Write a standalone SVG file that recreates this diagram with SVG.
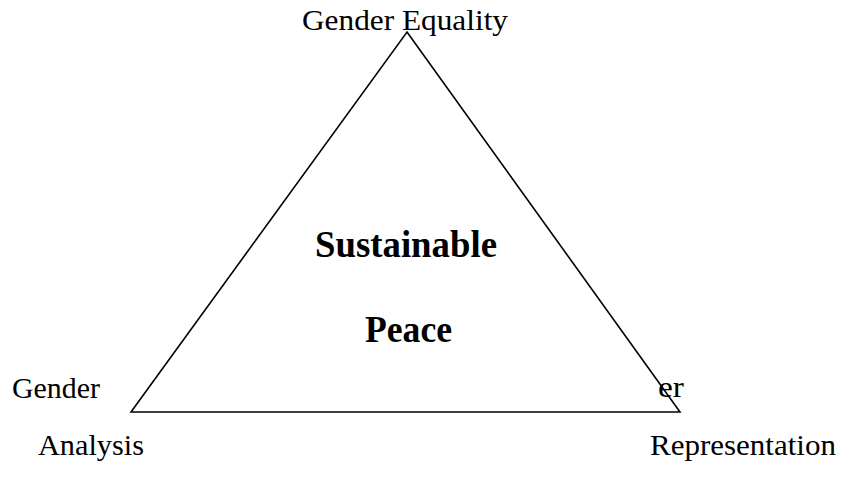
<svg xmlns="http://www.w3.org/2000/svg" width="854" height="479" viewBox="0 0 854 479">
  <style>
    .lbl { font-family: "Liberation Serif", "Times New Roman", serif; font-size: 30px; fill: #000; }
    .core { font-family: "Liberation Serif", "Times New Roman", serif; font-size: 37px; font-weight: bold; fill: #000; }
    .edge { fill: none; stroke: #000; stroke-width: 1.6; stroke-linejoin: miter; }
  </style>
  <rect width="854" height="479" fill="#fff"/>
  <g id="connectors">
    <polygon class="edge" points="407,32 680,412 131,412"/>
  </g>
  <g id="node-gender-equality">
    <text class="lbl" x="302" y="30" textLength="206" lengthAdjust="spacingAndGlyphs">Gender Equality</text>
  </g>
  <g id="node-sustainable-peace">
    <text class="core" x="315" y="257" textLength="182" lengthAdjust="spacingAndGlyphs">Sustainable</text>
    <text class="core" x="365" y="342" textLength="87" lengthAdjust="spacingAndGlyphs">Peace</text>
  </g>
  <g id="node-gender-analysis">
    <text class="lbl" x="12" y="398" textLength="88" lengthAdjust="spacingAndGlyphs">Gender</text>
    <text class="lbl" x="38" y="455" textLength="106" lengthAdjust="spacingAndGlyphs">Analysis</text>
  </g>
  <g id="node-gender-representation">
    <text class="lbl" x="658" y="397" textLength="26" lengthAdjust="spacingAndGlyphs">er</text>
    <text class="lbl" x="650" y="455" textLength="186" lengthAdjust="spacingAndGlyphs">Representation</text>
  </g>
</svg>
